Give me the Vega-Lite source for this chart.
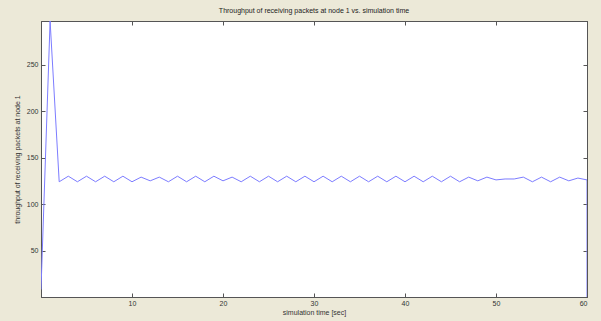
{
  "$schema": "https://vega.github.io/schema/vega-lite/v6.json",
  "width": 546,
  "height": 276,
  "autosize": "none",
  "padding": {"left": 41, "top": 21, "right": 14, "bottom": 24},
  "background": "#ECE9D8",
  "title": {"text": "Throughput of receiving packets at node 1 vs. simulation time", "fontSize": 7, "fontWeight": "normal", "font": "Liberation Sans", "color": "#222222", "offset": 4},
  "config": {
    "view": {"fill": "white", "stroke": "#555555", "strokeWidth": 1},
    "axis": {"grid": false, "domainColor": "#555555", "tickColor": "#555555", "tickSize": -4, "labelFont": "Liberation Sans", "labelFontSize": 7, "labelColor": "#333333", "titleFont": "Liberation Sans", "titleFontSize": 7, "titleFontWeight": "normal", "titleColor": "#333333"}
  },
  "data": {"values": [
    {"t": 0, "v": 8}, {"t": 1, "v": 297}, {"t": 2, "v": 124},
    {"t": 3, "v": 130}, {"t": 4, "v": 124}, {"t": 5, "v": 130}, {"t": 6, "v": 124},
    {"t": 7, "v": 130}, {"t": 8, "v": 124}, {"t": 9, "v": 130}, {"t": 10, "v": 124},
    {"t": 11, "v": 129}, {"t": 12, "v": 125}, {"t": 13, "v": 129}, {"t": 14, "v": 124},
    {"t": 15, "v": 130}, {"t": 16, "v": 124}, {"t": 17, "v": 130}, {"t": 18, "v": 124},
    {"t": 19, "v": 130}, {"t": 20, "v": 125}, {"t": 21, "v": 129}, {"t": 22, "v": 124},
    {"t": 23, "v": 130}, {"t": 24, "v": 124}, {"t": 25, "v": 130}, {"t": 26, "v": 124},
    {"t": 27, "v": 130}, {"t": 28, "v": 124}, {"t": 29, "v": 130}, {"t": 30, "v": 124},
    {"t": 31, "v": 130}, {"t": 32, "v": 124}, {"t": 33, "v": 130}, {"t": 34, "v": 124},
    {"t": 35, "v": 130}, {"t": 36, "v": 124}, {"t": 37, "v": 130}, {"t": 38, "v": 124},
    {"t": 39, "v": 130}, {"t": 40, "v": 124}, {"t": 41, "v": 130}, {"t": 42, "v": 124},
    {"t": 43, "v": 130}, {"t": 44, "v": 124}, {"t": 45, "v": 130}, {"t": 46, "v": 124},
    {"t": 47, "v": 129}, {"t": 48, "v": 125}, {"t": 49, "v": 129}, {"t": 50, "v": 126},
    {"t": 51, "v": 127}, {"t": 52, "v": 127}, {"t": 53, "v": 129}, {"t": 54, "v": 124},
    {"t": 55, "v": 129}, {"t": 56, "v": 124}, {"t": 57, "v": 129}, {"t": 58, "v": 125},
    {"t": 59, "v": 128}, {"t": 60, "v": 126}, {"t": 60, "v": 0}
  ]},
  "layer": [
    {
      "mark": {"type": "line", "color": "#7c7cff", "strokeWidth": 1, "clip": true},
      "encoding": {
        "x": {"field": "t", "type": "quantitative", "scale": {"domain": [0, 60], "nice": false, "zero": false},
              "axis": {"orient": "bottom", "values": [10, 20, 30, 40, 50, 60], "title": "simulation time [sec]", "labelPadding": 6, "titlePadding": 2}},
        "y": {"field": "v", "type": "quantitative", "scale": {"domain": [0, 297], "nice": false},
              "axis": {"orient": "left", "values": [50, 100, 150, 200, 250], "title": "throughput of receiving packets at node 1", "labelPadding": 7, "titlePadding": 6}},
        "order": {"value": null}
      }
    },
    {
      "mark": {"type": "point", "opacity": 0},
      "encoding": {
        "x": {"field": "t", "type": "quantitative", "axis": {"orient": "top", "values": [10, 20, 30, 40, 50, 60], "labels": false, "title": null}},
        "y": {"field": "v", "type": "quantitative", "axis": {"orient": "right", "values": [50, 100, 150, 200, 250], "labels": false, "title": null}}
      }
    }
  ],
  "resolve": {"axis": {"x": "independent", "y": "independent"}}
}
